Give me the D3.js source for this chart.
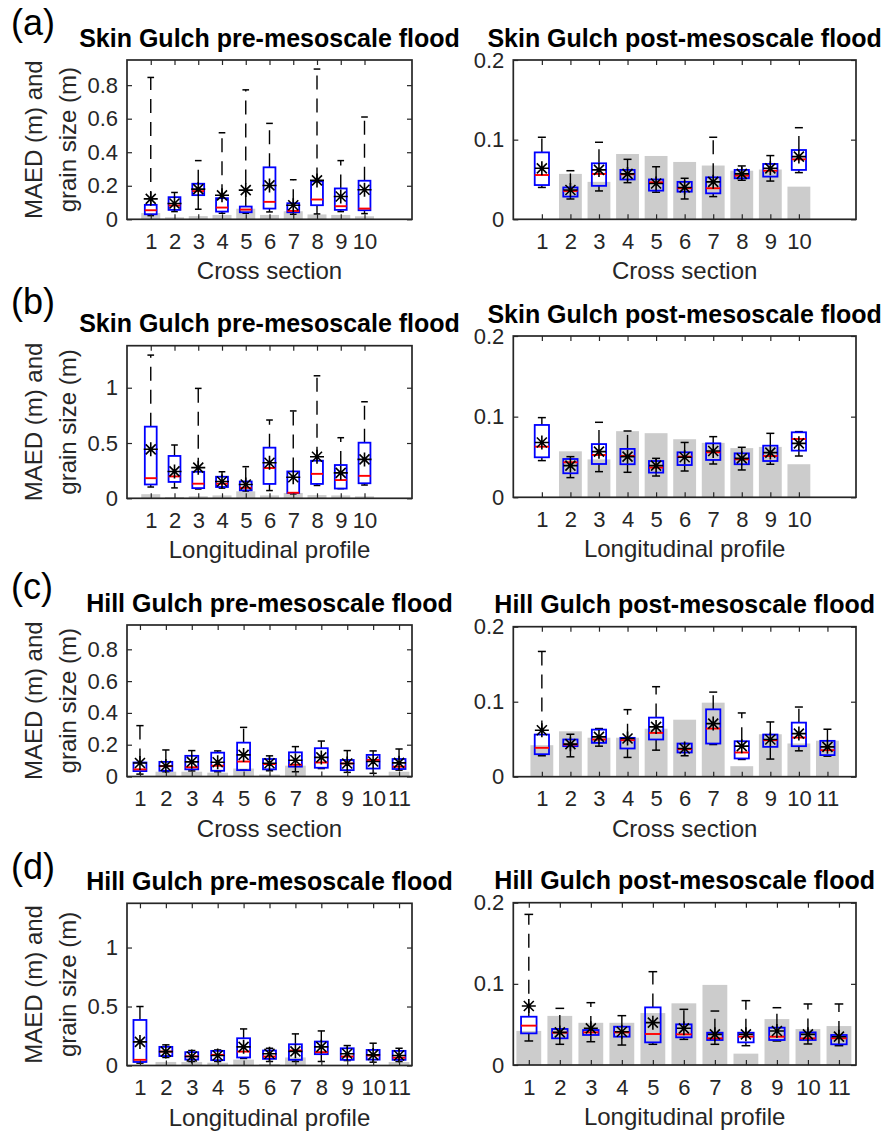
<!DOCTYPE html>
<html>
<head>
<meta charset="utf-8">
<script src="https://cdn.jsdelivr.net/npm/d3@7"></script>
<style>
body { margin: 0; background: #fff; }
svg text { font-family: Arial, "Liberation Sans", Helvetica, sans-serif; }
</style>
</head>
<body>
<svg id="fig" width="882" height="1134"></svg>
<script>
// categories
const sections10 = [1, 2, 3, 4, 5, 6, 7, 8, 9, 10];
const sections11 = [1, 2, 3, 4, 5, 6, 7, 8, 9, 10, 11];

// y tick values
const ticksFine = [0, 0.2, 0.4, 0.6, 0.8];
const ticksCoarse = [0, 0.5, 1];
const ticksPost = [0, 0.1, 0.2];

// grain size (grey bars), m
const skinPreGrain = [0.037, 0.012, 0.019, 0.026, 0.063, 0.026, 0.048, 0.029, 0.026, 0.018];
const skinPostGrain = [0, 0.057, 0.047, 0.082, 0.0795, 0.072, 0.0675, 0.061, 0.0625, 0.041];
const hillPreGrain = [0, 0.03, 0.03, 0.024, 0.05, 0.012, 0.068, 0, 0, 0, 0.03];
const hillPostGrain = [0.042, 0.0605, 0.052, 0.052, 0.064, 0.076, 0.0987, 0.014, 0.0566, 0.0443, 0.048];

// MAED boxes: [lower whisker, q1, median, q3, upper whisker, mean]
const skinPreCross = [
  [0.022, 0.03, 0.054, 0.086, 0.846, 0.122],
  [0.046, 0.056, 0.082, 0.132, 0.16, 0.094],
  [0.06, 0.144, 0.168, 0.212, 0.35, 0.18],
  [0.036, 0.046, 0.07, 0.126, 0.516, 0.143],
  [0.036, 0.042, 0.058, 0.076, 0.772, 0.174],
  [0.044, 0.064, 0.104, 0.31, 0.572, 0.202],
  [0.03, 0.042, 0.05, 0.096, 0.236, 0.084],
  [0.032, 0.084, 0.118, 0.226, 0.896, 0.232],
  [0.046, 0.056, 0.078, 0.184, 0.35, 0.136],
  [0.034, 0.054, 0.064, 0.23, 0.61, 0.176]
];
const skinPostCross = [
  [0.040, 0.043, 0.0556, 0.084, 0.103, 0.064],
  [0.0255, 0.0285, 0.0356, 0.040, 0.061, 0.0368],
  [0.0356, 0.042, 0.057, 0.0703, 0.0967, 0.062],
  [0.046, 0.050, 0.0565, 0.062, 0.0753, 0.057],
  [0.034, 0.036, 0.0464, 0.050, 0.066, 0.045],
  [0.0255, 0.0347, 0.039, 0.047, 0.0515, 0.040],
  [0.0285, 0.0326, 0.039, 0.0527, 0.103, 0.047],
  [0.049, 0.0515, 0.0548, 0.062, 0.067, 0.057],
  [0.048, 0.0536, 0.061, 0.0695, 0.080, 0.064],
  [0.0586, 0.062, 0.0753, 0.087, 0.115, 0.0787]
];
const skinPreLong = [
  [0.102, 0.125, 0.182, 0.648, 1.295, 0.443],
  [0.094, 0.148, 0.198, 0.383, 0.482, 0.243],
  [0.084, 0.092, 0.132, 0.24, 0.994, 0.277],
  [0.092, 0.102, 0.132, 0.195, 0.24, 0.152],
  [0.066, 0.072, 0.095, 0.152, 0.286, 0.125],
  [0.07, 0.13, 0.274, 0.458, 0.708, 0.322],
  [0.04, 0.049, 0.05, 0.243, 0.79, 0.19],
  [0.116, 0.13, 0.221, 0.34, 1.108, 0.376],
  [0.087, 0.088, 0.165, 0.301, 0.548, 0.23],
  [0.12, 0.136, 0.203, 0.503, 0.873, 0.352]
];
const skinPostLong = [
  [0.0455, 0.0496, 0.0628, 0.0897, 0.0988, 0.068],
  [0.0244, 0.0298, 0.0434, 0.0475, 0.0504, 0.0393],
  [0.0318, 0.0413, 0.0525, 0.066, 0.093, 0.0566],
  [0.031, 0.041, 0.0512, 0.060, 0.0822, 0.0504],
  [0.0264, 0.0306, 0.0368, 0.045, 0.0483, 0.0393],
  [0.0326, 0.040, 0.0504, 0.0558, 0.068, 0.0496],
  [0.0413, 0.0463, 0.0558, 0.0669, 0.0752, 0.0574],
  [0.0339, 0.041, 0.0471, 0.0545, 0.062, 0.0483],
  [0.041, 0.045, 0.0512, 0.064, 0.0793, 0.0554],
  [0.0512, 0.0579, 0.0723, 0.0806, 0.0814, 0.0669]
];
const hillPreCross = [
  [0.015, 0.034, 0.045, 0.088, 0.32, 0.085],
  [0.03, 0.036, 0.065, 0.092, 0.167, 0.066],
  [0.035, 0.045, 0.058, 0.13, 0.163, 0.092],
  [0.03, 0.036, 0.068, 0.15, 0.161, 0.09],
  [0.04, 0.04, 0.094, 0.213, 0.309, 0.136],
  [0.036, 0.045, 0.078, 0.11, 0.13, 0.083],
  [0.03, 0.062, 0.074, 0.152, 0.188, 0.102],
  [0.05, 0.055, 0.088, 0.178, 0.223, 0.12],
  [0.026, 0.04, 0.082, 0.104, 0.163, 0.082],
  [0.02, 0.05, 0.104, 0.136, 0.161, 0.094],
  [0.04, 0.047, 0.062, 0.11, 0.173, 0.086]
];
const hillPostCross = [
  [0.0279, 0.030, 0.0385, 0.0562, 0.167, 0.062],
  [0.0265, 0.0407, 0.0429, 0.0496, 0.0566, 0.0434],
  [0.0407, 0.0451, 0.0496, 0.0628, 0.0642, 0.0531],
  [0.0257, 0.0376, 0.0487, 0.0518, 0.0894, 0.0509],
  [0.0354, 0.0496, 0.0584, 0.0788, 0.120, 0.0664],
  [0.0279, 0.0323, 0.0367, 0.0442, 0.0442, 0.0376],
  [0.0429, 0.0442, 0.0642, 0.0898, 0.1128, 0.0708],
  [0.023, 0.0243, 0.0323, 0.0473, 0.085, 0.0407],
  [0.0235, 0.0398, 0.0487, 0.0562, 0.073, 0.0496],
  [0.0345, 0.0407, 0.0522, 0.0721, 0.0929, 0.0575],
  [0.0274, 0.0288, 0.0354, 0.0478, 0.0633, 0.0398]
];
const hillPreLong = [
  [0.02, 0.03, 0.048, 0.386, 0.5, 0.2],
  [0.068, 0.08, 0.118, 0.158, 0.175, 0.118],
  [0.034, 0.05, 0.078, 0.113, 0.127, 0.076],
  [0.034, 0.045, 0.09, 0.124, 0.132, 0.085],
  [0.06, 0.068, 0.118, 0.231, 0.31, 0.158],
  [0.034, 0.056, 0.076, 0.127, 0.146, 0.1],
  [0.034, 0.048, 0.127, 0.18, 0.268, 0.12],
  [0.034, 0.096, 0.113, 0.203, 0.293, 0.158],
  [0.042, 0.048, 0.076, 0.146, 0.169, 0.1],
  [0.028, 0.05, 0.085, 0.132, 0.189, 0.09],
  [0.034, 0.048, 0.066, 0.124, 0.146, 0.085]
];
const hillPostLong = [
  [0.0296, 0.039, 0.0485, 0.0595, 0.1856, 0.0727],
  [0.0255, 0.0329, 0.0398, 0.0444, 0.0698, 0.0402],
  [0.0287, 0.037, 0.0402, 0.0431, 0.0768, 0.0452],
  [0.0246, 0.0349, 0.0402, 0.0472, 0.0608, 0.041],
  [0.0255, 0.0279, 0.0382, 0.071, 0.115, 0.0522],
  [0.0316, 0.0341, 0.0378, 0.0501, 0.0686, 0.0452],
  [0.0255, 0.0308, 0.0329, 0.0398, 0.0665, 0.0378],
  [0.0238, 0.0279, 0.0349, 0.0398, 0.0793, 0.0378],
  [0.0296, 0.0308, 0.0349, 0.046, 0.0706, 0.0419],
  [0.0259, 0.0308, 0.0329, 0.0402, 0.0752, 0.0378],
  [0.0238, 0.0255, 0.0329, 0.037, 0.0752, 0.0349]
];

const panelLabels = ["(a)", "(b)", "(c)", "(d)"];
const panelLabelY = [35, 314, 599, 879];

const svg = d3.select("#fig");
const axisColor = "#262626";

// rect = [left, top, right, bottom]
const panels = [
  {box: skinPreCross, grain: skinPreGrain, cats: sections10, ticks: ticksFine, yMax: 0.95, xDom: [0, 12],
   title: "Skin Gulch pre-mesoscale flood", xlabel: "Cross section", rect: [127, 60, 412, 219.3], ylab: true},
  {box: skinPostCross, grain: skinPostGrain, cats: sections10, ticks: ticksPost, yMax: 0.2, xDom: [0, 12],
   title: "Skin Gulch post-mesoscale flood", xlabel: "Cross section", rect: [513.3, 60, 856, 219.3]},
  {box: skinPreLong, grain: skinPreGrain, cats: sections10, ticks: ticksCoarse, yMax: 1.38, xDom: [0, 12],
   title: "Skin Gulch pre-mesoscale flood", xlabel: "Longitudinal profile", rect: [127, 345.7, 412, 498.3], ylab: true},
  {box: skinPostLong, grain: skinPostGrain, cats: sections10, ticks: ticksPost, yMax: 0.2, xDom: [0, 12],
   title: "Skin Gulch post-mesoscale flood", xlabel: "Longitudinal profile", rect: [513.3, 336, 856, 497.3]},
  {box: hillPreCross, grain: hillPreGrain, cats: sections11, ticks: ticksFine, yMax: 0.953, xDom: [0.5, 11.5],
   title: "Hill Gulch pre-mesoscale flood", xlabel: "Cross section", rect: [127, 625, 412, 776.5], ylab: true},
  {box: hillPostCross, grain: hillPostGrain, cats: sections11, ticks: ticksPost, yMax: 0.2, xDom: [0, 12],
   title: "Hill Gulch post-mesoscale flood", xlabel: "Cross section", rect: [513.3, 626.7, 856, 776.7]},
  {box: hillPreLong, grain: hillPreGrain, cats: sections11, ticks: ticksCoarse, yMax: 1.375, xDom: [0.5, 11.5],
   title: "Hill Gulch pre-mesoscale flood", xlabel: "Longitudinal profile", rect: [127, 903.3, 412, 1065.5], ylab: true},
  {box: hillPostLong, grain: hillPostGrain, cats: sections11, ticks: ticksPost, yMax: 0.2, xDom: [0.5, 11.55],
   title: "Hill Gulch post-mesoscale flood", xlabel: "Longitudinal profile", rect: [513.3, 902.7, 856, 1065]}
];

const star = "M-7,0H7M0,-7V7M-5,-5L5,5M-5,5L5,-5";

function drawPanel(p) {
  const [x0, y0, x1, y1] = p.rect;
  const x = d3.scaleLinear().domain(p.xDom).range([x0, x1]);
  const y = d3.scaleLinear().domain([0, p.yMax]).range([y1, y0]);
  const g = svg.append("g");
  const rows = p.box.map((b, i) => ({c: p.cats[i], lo: b[0], q1: b[1], med: b[2], q3: b[3], hi: b[4], mean: b[5]}));

  // grain size bars
  g.selectAll("rect.bar").data(p.grain).join("rect")
    .attr("class", "bar")
    .attr("x", (d, i) => x(p.cats[i] - 0.4))
    .attr("width", (d, i) => x(p.cats[i] + 0.4) - x(p.cats[i] - 0.4))
    .attr("y", d => y(d))
    .attr("height", d => y(0) - y(d))
    .attr("fill", "#cccccc");

  // whiskers
  g.selectAll("line.wu").data(rows).join("line")
    .attr("x1", d => x(d.c)).attr("x2", d => x(d.c))
    .attr("y1", d => y(d.q3)).attr("y2", d => y(d.hi))
    .attr("stroke", "#000").attr("stroke-width", 1.4).attr("stroke-dasharray", "14,9");
  g.selectAll("line.wl").data(rows).join("line")
    .attr("x1", d => x(d.c)).attr("x2", d => x(d.c))
    .attr("y1", d => y(d.q1)).attr("y2", d => y(d.lo))
    .attr("stroke", "#000").attr("stroke-width", 1.4).attr("stroke-dasharray", "14,9");
  ["hi", "lo"].forEach(k => {
    g.selectAll("line.cap-" + k).data(rows).join("line")
      .attr("x1", d => x(d.c - 0.14)).attr("x2", d => x(d.c + 0.14))
      .attr("y1", d => y(d[k])).attr("y2", d => y(d[k]))
      .attr("stroke", "#000").attr("stroke-width", 1.5);
  });

  // boxes
  g.selectAll("rect.box").data(rows).join("rect")
    .attr("x", d => x(d.c - 0.25))
    .attr("width", d => x(d.c + 0.25) - x(d.c - 0.25))
    .attr("y", d => y(d.q3))
    .attr("height", d => y(d.q1) - y(d.q3))
    .attr("fill", "none").attr("stroke", "#0000ff").attr("stroke-width", 1.8);

  // medians
  g.selectAll("line.med").data(rows).join("line")
    .attr("x1", d => x(d.c - 0.25)).attr("x2", d => x(d.c + 0.25))
    .attr("y1", d => y(d.med)).attr("y2", d => y(d.med))
    .attr("stroke", "#ff0000").attr("stroke-width", 1.9);

  // means
  g.selectAll("path.mean").data(rows).join("path")
    .attr("d", star)
    .attr("transform", d => `translate(${x(d.c)},${y(d.mean)})`)
    .attr("stroke", "#000").attr("stroke-width", 1.6).attr("fill", "none");

  // axes with inward ticks on all sides
  const fmt = d3.format("~g");
  const axB = g.append("g").attr("transform", `translate(0,${y1})`)
    .call(d3.axisBottom(x).tickValues(p.cats).tickSizeInner(-5).tickSizeOuter(0).tickPadding(14));
  const axT = g.append("g").attr("transform", `translate(0,${y0})`)
    .call(d3.axisTop(x).tickValues(p.cats).tickSizeInner(-5).tickSizeOuter(0).tickFormat(""));
  const axL = g.append("g").attr("transform", `translate(${x0},0)`)
    .call(d3.axisLeft(y).tickValues(p.ticks).tickSizeInner(-5).tickSizeOuter(0).tickPadding(9).tickFormat(fmt));
  const axR = g.append("g").attr("transform", `translate(${x1},0)`)
    .call(d3.axisRight(y).tickValues(p.ticks).tickSizeInner(-5).tickSizeOuter(0).tickFormat(""));
  [axB, axT, axL, axR].forEach(a => {
    a.select(".domain").remove();
    a.selectAll("line").attr("stroke", axisColor).attr("stroke-width", 1.2);
    a.selectAll("text").attr("fill", axisColor).style("font-size", "22px");
  });

  g.append("rect")
    .attr("x", x0).attr("y", y0).attr("width", x1 - x0).attr("height", y1 - y0)
    .attr("fill", "none").attr("stroke", axisColor).attr("stroke-width", 1.7);

  // title and labels
  const cx = (x0 + x1) / 2;
  g.append("text").attr("x", cx).attr("y", y0 - 13.5)
    .attr("text-anchor", "middle").style("font-size", "25px").style("font-weight", "bold")
    .attr("fill", "#000").text(p.title);
  g.append("text").attr("x", cx).attr("y", y1 + 60)
    .attr("text-anchor", "middle").style("font-size", "24px")
    .attr("fill", axisColor).text(p.xlabel);
  if (p.ylab) {
    const cy = (y0 + y1) / 2;
    [["MAED (m) and", 42], ["grain size (m)", 76]].forEach(([t, bx]) => {
      g.append("text").attr("transform", `translate(${bx},${cy}) rotate(-90)`)
        .attr("text-anchor", "middle").style("font-size", "24px")
        .attr("fill", axisColor).text(t);
    });
  }
}

panels.forEach(drawPanel);

svg.selectAll("text.plabel").data(panelLabels).join("text")
  .attr("class", "plabel")
  .attr("x", 11).attr("y", (d, i) => panelLabelY[i])
  .style("font-size", "36px").attr("fill", "#000")
  .text(d => d);
</script>
</body>
</html>
